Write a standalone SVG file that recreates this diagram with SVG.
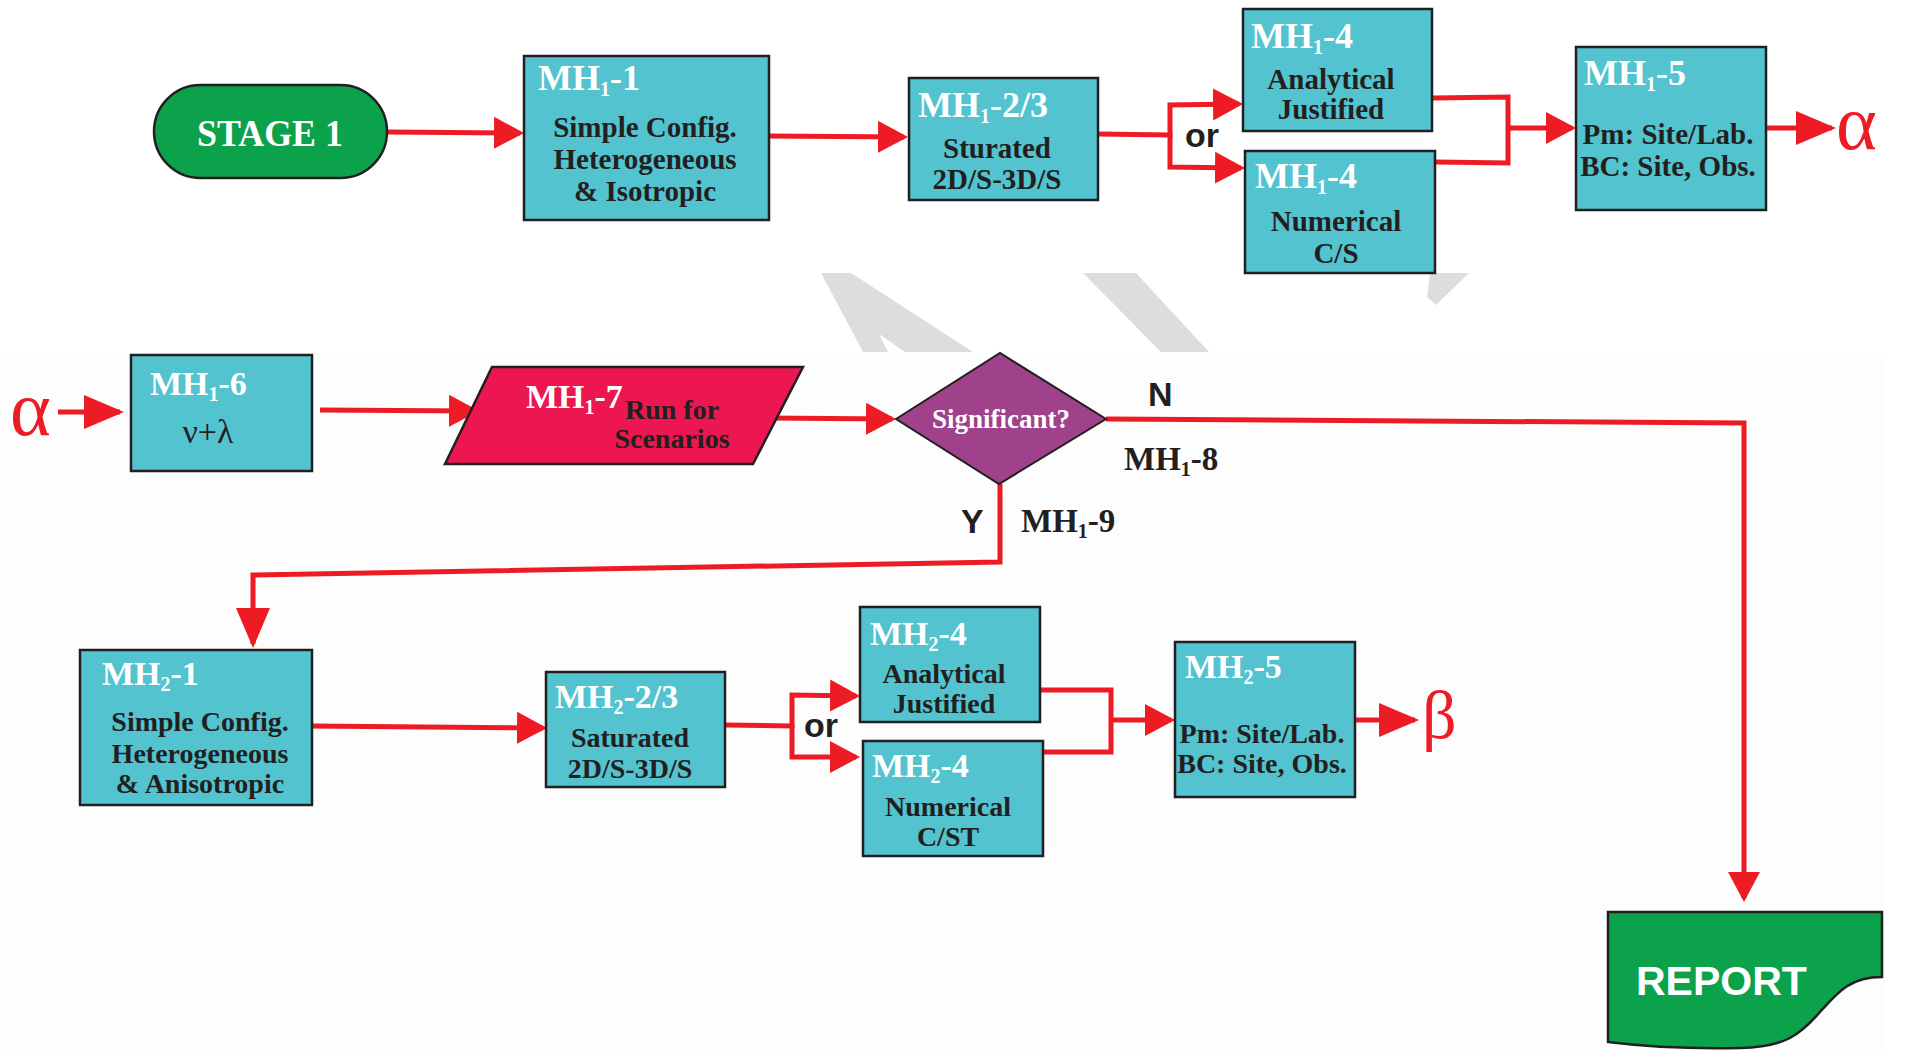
<svg xmlns="http://www.w3.org/2000/svg" width="1907" height="1050" viewBox="0 0 1907 1050">
<style>
.box{fill:#52C3CF;stroke:#231F20;stroke-width:2.5}
.hd{font-family:"Liberation Serif",serif;font-weight:bold;font-size:36px;fill:#fff}
.hd2{font-family:"Liberation Serif",serif;font-weight:bold;font-size:34px;fill:#fff}
.sb{font-size:20px}
.bd{font-family:"Liberation Serif",serif;font-weight:bold;font-size:29px;fill:#231F20;text-anchor:middle}
.bd2{font-family:"Liberation Serif",serif;font-weight:bold;font-size:28px;fill:#231F20;text-anchor:middle}
.lbl{font-family:"Liberation Serif",serif;font-weight:bold;font-size:33px;fill:#231F20}
.sans{font-family:"Liberation Sans",Arial,sans-serif;font-weight:bold;fill:#231F20}
.greek{font-family:"Liberation Serif",serif;fill:#ED1C24}
.ln{fill:none;stroke:#ED1C24;stroke-width:5;stroke-linejoin:miter}
.wm{fill:#DDDDDD}
</style>
<defs>
<marker id="ah" markerUnits="userSpaceOnUse" markerWidth="30" markerHeight="34" refX="26" refY="17" orient="auto">
<path d="M0,1 L30,17 L0,33 z" fill="#ED1C24"/>
</marker>
<marker id="ahL" markerUnits="userSpaceOnUse" markerWidth="40" markerHeight="36" refX="36" refY="18" orient="auto">
<path d="M0,1 L40,18 L0,35 z" fill="#ED1C24"/>
</marker>
</defs>
<rect x="0" y="0" width="1907" height="1050" fill="#FFFFFF"/>
<rect x="0" y="353" width="1885" height="697" fill="#FDFDFD"/>
<g id="watermark">
<polygon class="wm" points="821,273 851,273 973,352 905,352 879,334 888,352 863,352"/>
<polygon class="wm" points="1083,273 1136,273 1209,352 1161,352"/>
<polygon class="wm" points="1430,273 1469,273 1436,305 1427,297"/>
</g>
<g id="connectors">
<path class="ln" d="M387,132 L520,133" marker-end="url(#ah)"/>
<path class="ln" d="M769,136 L904,137" marker-end="url(#ah)"/>
<path class="ln" d="M1099,134 L1170,135 L1170,105 L1239,104" marker-end="url(#ah)"/>
<path class="ln" d="M1170,133 L1170,167 L1241,168" marker-end="url(#ah)"/>
<path class="ln" d="M1433,98 L1508,97 L1508,163 L1436,162"/>
<path class="ln" d="M1508,128 L1572,128" marker-end="url(#ah)"/>
<path class="ln" d="M1767,128 L1832,128" marker-end="url(#ahL)"/>
<path class="ln" d="M58,412 L120,412" marker-end="url(#ahL)"/>
<path class="ln" d="M320,410 L475,411" marker-end="url(#ah)"/>
<path class="ln" d="M766,418 L892,419" marker-end="url(#ah)"/>
<path class="ln" d="M1106,419 L1744,423 L1744,898" marker-end="url(#ah)"/>
<path class="ln" d="M1000,484 L1000,562 L253,575 L253,644" marker-end="url(#ahL)"/>
<path class="ln" d="M311,726 L543,728" marker-end="url(#ah)"/>
<path class="ln" d="M725,725 L792,726 L792,695 L856,696" marker-end="url(#ah)"/>
<path class="ln" d="M792,724 L792,757 L856,757" marker-end="url(#ah)"/>
<path class="ln" d="M1040,690 L1111,690 L1111,752 L1043,752"/>
<path class="ln" d="M1111,720 L1171,720" marker-end="url(#ah)"/>
<path class="ln" d="M1355,720 L1415,720" marker-end="url(#ahL)"/>
<text class="sans" x="1185" y="147" font-size="34">or</text>
<text class="sans" x="804" y="737" font-size="34">or</text>
<text class="sans" x="1148" y="406" font-size="34">N</text>
<text class="sans" x="961" y="533" font-size="34">Y</text>
<text class="lbl" x="1124" y="470">MH<tspan class="sb" dy="6">1</tspan><tspan dy="-6">-8</tspan></text>
<text class="lbl" x="1021" y="532">MH<tspan class="sb" dy="6">1</tspan><tspan dy="-6">-9</tspan></text>
<text class="greek" x="1836" y="149" font-size="78">α</text>
<text class="greek" x="10" y="435" font-size="78">α</text>
<text class="greek" x="1422" y="738" font-size="68">β</text>
</g>
<g id="stage1">
<rect x="154" y="85" width="233" height="93" rx="46.5" fill="#0BA24B" stroke="#231F20" stroke-width="2.5"/>
<text x="270" y="146" font-family="Liberation Serif,serif" font-weight="bold" font-size="38" fill="#fff" text-anchor="middle" textLength="146" lengthAdjust="spacingAndGlyphs">STAGE 1</text>
</g>
<g id="mh1-1">
<rect class="box" x="524" y="56" width="245" height="164"/>
<text class="hd" x="538" y="90">MH<tspan class="sb" dy="6">1</tspan><tspan dy="-6">-1</tspan></text>
<text class="bd" x="645" y="137">Simple Config.</text>
<text class="bd" x="645" y="169">Heterogeneous</text>
<text class="bd" x="645" y="201">&amp; Isotropic</text>
</g>
<g id="mh1-23">
<rect class="box" x="909" y="78" width="189" height="122"/>
<text class="hd" x="918" y="117">MH<tspan class="sb" dy="6">1</tspan><tspan dy="-6">-2/3</tspan></text>
<text class="bd" x="997" y="158">Sturated</text>
<text class="bd" x="997" y="189">2D/S-3D/S</text>
</g>
<g id="mh1-4a">
<rect class="box" x="1243" y="9" width="189" height="122"/>
<text class="hd" x="1251" y="48">MH<tspan class="sb" dy="6">1</tspan><tspan dy="-6">-4</tspan></text>
<text class="bd" x="1331" y="89">Analytical</text>
<text class="bd" x="1331" y="119">Justified</text>
</g>
<g id="mh1-4n">
<rect class="box" x="1245" y="151" width="190" height="122"/>
<text class="hd" x="1255" y="188">MH<tspan class="sb" dy="6">1</tspan><tspan dy="-6">-4</tspan></text>
<text class="bd" x="1336" y="231">Numerical</text>
<text class="bd" x="1336" y="263">C/S</text>
</g>
<g id="mh1-5">
<rect class="box" x="1576" y="47" width="190" height="163"/>
<text class="hd" x="1584" y="85">MH<tspan class="sb" dy="6">1</tspan><tspan dy="-6">-5</tspan></text>
<text class="bd" x="1668" y="144">Pm: Site/Lab.</text>
<text class="bd" x="1668" y="176">BC: Site, Obs.</text>
</g>
<g id="mh1-6">
<rect class="box" x="131" y="355" width="181" height="116"/>
<text class="hd2" x="150" y="395">MH<tspan class="sb" dy="6">1</tspan><tspan dy="-6">-6</tspan></text>
<text x="208" y="443" font-family="Liberation Serif,serif" font-size="34" fill="#231F20" text-anchor="middle">ν+λ</text>
</g>
<g id="mh1-7">
<polygon points="492,367 803,367 753,464 445,464" fill="#EC1651" stroke="#231F20" stroke-width="2.5"/>
<text class="hd2" x="526" y="408">MH<tspan class="sb" dy="6">1</tspan><tspan dy="-6">-7</tspan></text>
<text class="bd2" x="672" y="419">Run for</text>
<text class="bd2" x="672" y="448">Scenarios</text>
</g>
<g id="decision">
<polygon points="896,419 1000,353 1106,419 999,484" fill="#A0428B" stroke="#231F20" stroke-width="2"/>
<text x="1001" y="428" font-family="Liberation Serif,serif" font-weight="bold" font-size="27" fill="#fff" text-anchor="middle">Significant?</text>
</g>
<g id="mh2-1">
<rect class="box" x="80" y="650" width="232" height="155"/>
<text class="hd2" x="102" y="685">MH<tspan class="sb" dy="6">2</tspan><tspan dy="-6">-1</tspan></text>
<text class="bd2" x="200" y="731">Simple Config.</text>
<text class="bd2" x="200" y="763">Heterogeneous</text>
<text class="bd2" x="200" y="793">&amp; Anisotropic</text>
</g>
<g id="mh2-23">
<rect class="box" x="546" y="672" width="179" height="115"/>
<text class="hd2" x="555" y="708">MH<tspan class="sb" dy="6">2</tspan><tspan dy="-6">-2/3</tspan></text>
<text class="bd2" x="630" y="747">Saturated</text>
<text class="bd2" x="630" y="778">2D/S-3D/S</text>
</g>
<g id="mh2-4a">
<rect class="box" x="860" y="607" width="180" height="115"/>
<text class="hd2" x="870" y="645">MH<tspan class="sb" dy="6">2</tspan><tspan dy="-6">-4</tspan></text>
<text class="bd2" x="944" y="683">Analytical</text>
<text class="bd2" x="944" y="713">Justified</text>
</g>
<g id="mh2-4n">
<rect class="box" x="863" y="741" width="180" height="115"/>
<text class="hd2" x="872" y="777">MH<tspan class="sb" dy="6">2</tspan><tspan dy="-6">-4</tspan></text>
<text class="bd2" x="948" y="816">Numerical</text>
<text class="bd2" x="948" y="846">C/ST</text>
</g>
<g id="mh2-5">
<rect class="box" x="1175" y="642" width="180" height="155"/>
<text class="hd2" x="1185" y="678">MH<tspan class="sb" dy="6">2</tspan><tspan dy="-6">-5</tspan></text>
<text class="bd2" x="1262" y="743">Pm: Site/Lab.</text>
<text class="bd2" x="1262" y="773">BC: Site, Obs.</text>
</g>
<g id="report">
<path d="M1608,912 H1882 V977 C1850,977 1838,992 1820,1012 C1800,1035 1785,1047 1740,1048 C1690,1049 1640,1046 1608,1042 Z" fill="#0BA24B" stroke="#231F20" stroke-width="2.5"/>
<text x="1636" y="995" font-family="Liberation Sans,Arial,sans-serif" font-weight="bold" font-size="41" fill="#fff">REPORT</text>
</g>
</svg>
